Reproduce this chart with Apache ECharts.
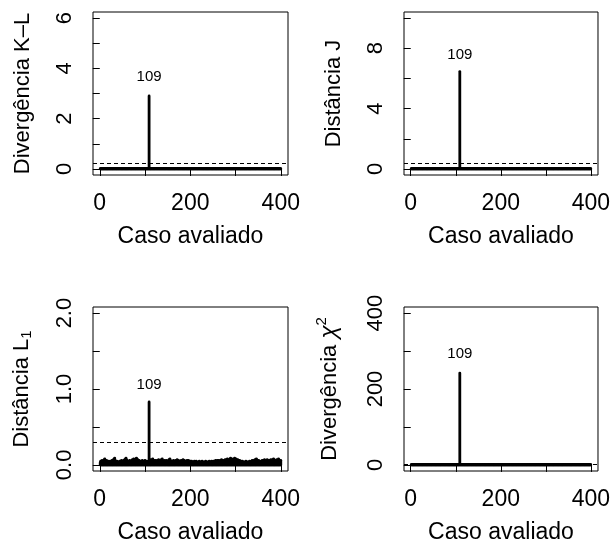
<!DOCTYPE html>
<html><head><meta charset="utf-8">
<script src="https://cdn.jsdelivr.net/npm/echarts@6/dist/echarts.min.js"></script>
<style>html,body{margin:0;padding:0;background:#fff}#c{width:613px;height:548px}</style>
</head><body><div id="c"></div><script>
// ---------- DATA ----------
const nCases = 400;
const casos = Array.from({length: nCases}, (_, i) => i + 1); // case index 1..400
const xTicks = [0, 100, 200, 300, 400];
const xTickLabels = [0, 200, 400];

// Divergência K-L
const klValues = [
0.01,0.01,0.01,0.01,0.01,0.01,0.01,0.01,0.01,0.01,0.01,0.01,0.01,0.01,0.01,0.01,0.01,0.01,0.01,0.01,
0.01,0.01,0.01,0.01,0.01,0.01,0.01,0.01,0.01,0.01,0.01,0.01,0.01,0.01,0.01,0.01,0.01,0.01,0.01,0.01,
0.01,0.01,0.01,0.01,0.01,0.01,0.01,0.01,0.01,0.01,0.01,0.01,0.01,0.01,0.01,0.01,0.01,0.01,0.01,0.01,
0.01,0.01,0.01,0.01,0.01,0.01,0.01,0.01,0.01,0.01,0.01,0.01,0.01,0.01,0.01,0.01,0.01,0.01,0.01,0.01,
0.01,0.01,0.01,0.01,0.01,0.01,0.01,0.01,0.01,0.01,0.01,0.01,0.01,0.01,0.01,0.01,0.01,0.01,0.01,0.01,
0.01,0.01,0.01,0.01,0.01,0.01,0.01,0.01,2.9,0.01,0.01,0.01,0.01,0.01,0.01,0.01,0.01,0.01,0.01,0.01,
0.01,0.01,0.01,0.01,0.01,0.01,0.01,0.01,0.01,0.01,0.01,0.01,0.01,0.01,0.01,0.01,0.01,0.01,0.01,0.01,
0.01,0.01,0.01,0.01,0.01,0.01,0.01,0.01,0.01,0.01,0.01,0.01,0.01,0.01,0.01,0.01,0.01,0.01,0.01,0.01,
0.01,0.01,0.01,0.01,0.01,0.01,0.01,0.01,0.01,0.01,0.01,0.01,0.01,0.01,0.01,0.01,0.01,0.01,0.01,0.01,
0.01,0.01,0.01,0.01,0.01,0.01,0.01,0.01,0.01,0.01,0.01,0.01,0.01,0.01,0.01,0.01,0.01,0.01,0.01,0.01,
0.01,0.01,0.01,0.01,0.01,0.01,0.01,0.01,0.01,0.01,0.01,0.01,0.01,0.01,0.01,0.01,0.01,0.01,0.01,0.01,
0.01,0.01,0.01,0.01,0.01,0.01,0.01,0.01,0.01,0.01,0.01,0.01,0.01,0.01,0.01,0.01,0.01,0.01,0.01,0.01,
0.01,0.01,0.01,0.01,0.01,0.01,0.01,0.01,0.01,0.01,0.01,0.01,0.01,0.01,0.01,0.01,0.01,0.01,0.01,0.01,
0.01,0.01,0.01,0.01,0.01,0.01,0.01,0.01,0.01,0.01,0.01,0.01,0.01,0.01,0.01,0.01,0.01,0.01,0.01,0.01,
0.01,0.01,0.01,0.01,0.01,0.01,0.01,0.01,0.01,0.01,0.01,0.01,0.01,0.01,0.01,0.01,0.01,0.01,0.01,0.01,
0.01,0.01,0.01,0.01,0.01,0.01,0.01,0.01,0.01,0.01,0.01,0.01,0.01,0.01,0.01,0.01,0.01,0.01,0.01,0.01,
0.01,0.01,0.01,0.01,0.01,0.01,0.01,0.01,0.01,0.01,0.01,0.01,0.01,0.01,0.01,0.01,0.01,0.01,0.01,0.01,
0.01,0.01,0.01,0.01,0.01,0.01,0.01,0.01,0.01,0.01,0.01,0.01,0.01,0.01,0.01,0.01,0.01,0.01,0.01,0.01,
0.01,0.01,0.01,0.01,0.01,0.01,0.01,0.01,0.01,0.01,0.01,0.01,0.01,0.01,0.01,0.01,0.01,0.01,0.01,0.01,
0.01,0.01,0.01,0.01,0.01,0.01,0.01,0.01,0.01,0.01,0.01,0.01,0.01,0.01,0.01,0.01,0.01,0.01,0.01,0.01];
const klThreshold = 0.22;
const klTicks = [0, 1, 2, 3, 4, 5, 6];
const klTickLabels = [0, 2, 4, 6];
const klRange = [0, 6];
const klLabelY = 3.65;

// Distância J
const jValues = [
0.02,0.02,0.02,0.02,0.02,0.02,0.02,0.02,0.02,0.02,0.02,0.02,0.02,0.02,0.02,0.02,0.02,0.02,0.02,0.02,
0.02,0.02,0.02,0.02,0.02,0.02,0.02,0.02,0.02,0.02,0.02,0.02,0.02,0.02,0.02,0.02,0.02,0.02,0.02,0.02,
0.02,0.02,0.02,0.02,0.02,0.02,0.02,0.02,0.02,0.02,0.02,0.02,0.02,0.02,0.02,0.02,0.02,0.02,0.02,0.02,
0.02,0.02,0.02,0.02,0.02,0.02,0.02,0.02,0.02,0.02,0.02,0.02,0.02,0.02,0.02,0.02,0.02,0.02,0.02,0.02,
0.02,0.02,0.02,0.02,0.02,0.02,0.02,0.02,0.02,0.02,0.02,0.02,0.02,0.02,0.02,0.02,0.02,0.02,0.02,0.02,
0.02,0.02,0.02,0.02,0.02,0.02,0.02,0.02,6.45,0.02,0.02,0.02,0.02,0.02,0.02,0.02,0.02,0.02,0.02,0.02,
0.02,0.02,0.02,0.02,0.02,0.02,0.02,0.02,0.02,0.02,0.02,0.02,0.02,0.02,0.02,0.02,0.02,0.02,0.02,0.02,
0.02,0.02,0.02,0.02,0.02,0.02,0.02,0.02,0.02,0.02,0.02,0.02,0.02,0.02,0.02,0.02,0.02,0.02,0.02,0.02,
0.02,0.02,0.02,0.02,0.02,0.02,0.02,0.02,0.02,0.02,0.02,0.02,0.02,0.02,0.02,0.02,0.02,0.02,0.02,0.02,
0.02,0.02,0.02,0.02,0.02,0.02,0.02,0.02,0.02,0.02,0.02,0.02,0.02,0.02,0.02,0.02,0.02,0.02,0.02,0.02,
0.02,0.02,0.02,0.02,0.02,0.02,0.02,0.02,0.02,0.02,0.02,0.02,0.02,0.02,0.02,0.02,0.02,0.02,0.02,0.02,
0.02,0.02,0.02,0.02,0.02,0.02,0.02,0.02,0.02,0.02,0.02,0.02,0.02,0.02,0.02,0.02,0.02,0.02,0.02,0.02,
0.02,0.02,0.02,0.02,0.02,0.02,0.02,0.02,0.02,0.02,0.02,0.02,0.02,0.02,0.02,0.02,0.02,0.02,0.02,0.02,
0.02,0.02,0.02,0.02,0.02,0.02,0.02,0.02,0.02,0.02,0.02,0.02,0.02,0.02,0.02,0.02,0.02,0.02,0.02,0.02,
0.02,0.02,0.02,0.02,0.02,0.02,0.02,0.02,0.02,0.02,0.02,0.02,0.02,0.02,0.02,0.02,0.02,0.02,0.02,0.02,
0.02,0.02,0.02,0.02,0.02,0.02,0.02,0.02,0.02,0.02,0.02,0.02,0.02,0.02,0.02,0.02,0.02,0.02,0.02,0.02,
0.02,0.02,0.02,0.02,0.02,0.02,0.02,0.02,0.02,0.02,0.02,0.02,0.02,0.02,0.02,0.02,0.02,0.02,0.02,0.02,
0.02,0.02,0.02,0.02,0.02,0.02,0.02,0.02,0.02,0.02,0.02,0.02,0.02,0.02,0.02,0.02,0.02,0.02,0.02,0.02,
0.02,0.02,0.02,0.02,0.02,0.02,0.02,0.02,0.02,0.02,0.02,0.02,0.02,0.02,0.02,0.02,0.02,0.02,0.02,0.02,
0.02,0.02,0.02,0.02,0.02,0.02,0.02,0.02,0.02,0.02,0.02,0.02,0.02,0.02,0.02,0.02,0.02,0.02,0.02,0.02];
const jThreshold = 0.4;
const jTicks = [0, 2, 4, 6, 8, 10];
const jTickLabels = [0, 4, 8];
const jRange = [0, 10];
const jLabelY = 7.55;

// Distância L1
const l1Values = [
0.03,0.05,0.02,0.04,0.06,0.03,0.02,0.05,0.04,0.07,0.08,0.05,0.03,0.04,0.06,0.05,0.02,0.03,0.04,0.05,
0.03,0.04,0.02,0.05,0.03,0.04,0.06,0.05,0.04,0.07,0.06,0.08,0.09,0.06,0.05,0.04,0.03,0.05,0.04,0.03,
0.02,0.04,0.03,0.05,0.04,0.03,0.05,0.06,0.04,0.03,0.05,0.04,0.06,0.05,0.07,0.06,0.08,0.09,0.07,0.06,
0.05,0.04,0.03,0.05,0.04,0.06,0.05,0.04,0.03,0.05,0.06,0.07,0.05,0.06,0.08,0.07,0.06,0.05,0.07,0.08,
0.09,0.08,0.06,0.07,0.05,0.04,0.06,0.05,0.03,0.04,0.05,0.03,0.04,0.06,0.05,0.04,0.03,0.05,0.04,0.06,
0.05,0.03,0.04,0.05,0.04,0.03,0.04,0.05,0.83,0.06,0.05,0.07,0.04,0.06,0.05,0.07,0.08,0.06,0.05,0.04,
0.06,0.05,0.04,0.06,0.03,0.05,0.04,0.06,0.05,0.07,0.04,0.06,0.05,0.04,0.06,0.07,0.05,0.08,0.06,0.04,
0.05,0.04,0.06,0.03,0.05,0.04,0.06,0.05,0.04,0.03,0.05,0.06,0.07,0.05,0.08,0.06,0.04,0.05,0.03,0.04,
0.05,0.04,0.06,0.05,0.03,0.04,0.05,0.06,0.04,0.05,0.07,0.05,0.04,0.06,0.05,0.04,0.03,0.05,0.04,0.06,
0.05,0.04,0.06,0.07,0.05,0.04,0.06,0.05,0.04,0.03,0.05,0.04,0.06,0.05,0.04,0.06,0.05,0.04,0.03,0.05,
0.04,0.03,0.05,0.04,0.03,0.02,0.04,0.03,0.05,0.04,0.03,0.04,0.05,0.03,0.04,0.02,0.03,0.04,0.03,0.05,
0.04,0.03,0.02,0.04,0.03,0.05,0.04,0.03,0.04,0.02,0.03,0.04,0.03,0.05,0.04,0.03,0.02,0.04,0.03,0.04,
0.03,0.05,0.04,0.03,0.04,0.03,0.05,0.04,0.03,0.04,0.05,0.04,0.03,0.05,0.04,0.06,0.05,0.04,0.05,0.06,
0.05,0.04,0.06,0.05,0.04,0.05,0.06,0.05,0.07,0.06,0.05,0.06,0.04,0.05,0.06,0.05,0.07,0.06,0.05,0.07,
0.06,0.08,0.07,0.06,0.05,0.07,0.06,0.08,0.09,0.07,0.06,0.08,0.07,0.06,0.05,0.07,0.08,0.09,0.07,0.06,
0.08,0.07,0.06,0.05,0.07,0.06,0.05,0.04,0.06,0.05,0.04,0.05,0.04,0.03,0.05,0.04,0.03,0.04,0.03,0.02,
0.04,0.03,0.05,0.04,0.03,0.04,0.02,0.03,0.04,0.03,0.05,0.04,0.03,0.04,0.05,0.04,0.06,0.05,0.04,0.05,
0.06,0.05,0.07,0.06,0.05,0.08,0.07,0.06,0.05,0.04,0.06,0.05,0.04,0.05,0.03,0.04,0.05,0.04,0.06,0.05,
0.04,0.06,0.05,0.07,0.06,0.05,0.04,0.06,0.05,0.07,0.06,0.05,0.04,0.06,0.05,0.04,0.06,0.07,0.05,0.06,
0.05,0.07,0.06,0.08,0.07,0.06,0.05,0.04,0.06,0.05,0.07,0.06,0.05,0.06,0.08,0.07,0.06,0.05,0.04,0.06];
const l1Threshold = 0.30;
const l1Ticks = [0, 0.5, 1, 1.5, 2];
const l1TickLabels = [0, 1, 2];
const l1Range = [0, 2];
const l1LabelY = 1.06;

// Divergência chi^2
const chiValues = [
0.5,0.5,0.5,0.5,0.5,0.5,0.5,0.5,0.5,0.5,0.5,0.5,0.5,0.5,0.5,0.5,0.5,0.5,0.5,0.5,
0.5,0.5,0.5,0.5,0.5,0.5,0.5,0.5,0.5,0.5,0.5,0.5,0.5,0.5,0.5,0.5,0.5,0.5,0.5,0.5,
0.5,0.5,0.5,0.5,0.5,0.5,0.5,0.5,0.5,0.5,0.5,0.5,0.5,0.5,0.5,0.5,0.5,0.5,0.5,0.5,
0.5,0.5,0.5,0.5,0.5,0.5,0.5,0.5,0.5,0.5,0.5,0.5,0.5,0.5,0.5,0.5,0.5,0.5,0.5,0.5,
0.5,0.5,0.5,0.5,0.5,0.5,0.5,0.5,0.5,0.5,0.5,0.5,0.5,0.5,0.5,0.5,0.5,0.5,0.5,0.5,
0.5,0.5,0.5,0.5,0.5,0.5,0.5,0.5,242,0.5,0.5,0.5,0.5,0.5,0.5,0.5,0.5,0.5,0.5,0.5,
0.5,0.5,0.5,0.5,0.5,0.5,0.5,0.5,0.5,0.5,0.5,0.5,0.5,0.5,0.5,0.5,0.5,0.5,0.5,0.5,
0.5,0.5,0.5,0.5,0.5,0.5,0.5,0.5,0.5,0.5,0.5,0.5,0.5,0.5,0.5,0.5,0.5,0.5,0.5,0.5,
0.5,0.5,0.5,0.5,0.5,0.5,0.5,0.5,0.5,0.5,0.5,0.5,0.5,0.5,0.5,0.5,0.5,0.5,0.5,0.5,
0.5,0.5,0.5,0.5,0.5,0.5,0.5,0.5,0.5,0.5,0.5,0.5,0.5,0.5,0.5,0.5,0.5,0.5,0.5,0.5,
0.5,0.5,0.5,0.5,0.5,0.5,0.5,0.5,0.5,0.5,0.5,0.5,0.5,0.5,0.5,0.5,0.5,0.5,0.5,0.5,
0.5,0.5,0.5,0.5,0.5,0.5,0.5,0.5,0.5,0.5,0.5,0.5,0.5,0.5,0.5,0.5,0.5,0.5,0.5,0.5,
0.5,0.5,0.5,0.5,0.5,0.5,0.5,0.5,0.5,0.5,0.5,0.5,0.5,0.5,0.5,0.5,0.5,0.5,0.5,0.5,
0.5,0.5,0.5,0.5,0.5,0.5,0.5,0.5,0.5,0.5,0.5,0.5,0.5,0.5,0.5,0.5,0.5,0.5,0.5,0.5,
0.5,0.5,0.5,0.5,0.5,0.5,0.5,0.5,0.5,0.5,0.5,0.5,0.5,0.5,0.5,0.5,0.5,0.5,0.5,0.5,
0.5,0.5,0.5,0.5,0.5,0.5,0.5,0.5,0.5,0.5,0.5,0.5,0.5,0.5,0.5,0.5,0.5,0.5,0.5,0.5,
0.5,0.5,0.5,0.5,0.5,0.5,0.5,0.5,0.5,0.5,0.5,0.5,0.5,0.5,0.5,0.5,0.5,0.5,0.5,0.5,
0.5,0.5,0.5,0.5,0.5,0.5,0.5,0.5,0.5,0.5,0.5,0.5,0.5,0.5,0.5,0.5,0.5,0.5,0.5,0.5,
0.5,0.5,0.5,0.5,0.5,0.5,0.5,0.5,0.5,0.5,0.5,0.5,0.5,0.5,0.5,0.5,0.5,0.5,0.5,0.5,
0.5,0.5,0.5,0.5,0.5,0.5,0.5,0.5,0.5,0.5,0.5,0.5,0.5,0.5,0.5,0.5,0.5,0.5,0.5,0.5];
const chiThreshold = 1;
const chiTicks = [0, 100, 200, 300, 400];
const chiTickLabels = [0, 200, 400];
const chiRange = [0, 400];
const chiLabelY = 293;

const highlightCase = 109;
const highlightText = '109';
const xTitle = 'Caso avaliado';

// ---------- LAYOUT / STYLE ----------
const FONT = '"Liberation Sans", Arial, Helvetica, sans-serif';
const panels = [
  {vals: klValues, thr: klThreshold, ticks: klTicks, labels: klTickLabels, range: klRange, labY: klLabelY, dec: 0,
   name: 'Divergência K–L', rich: null, box: {left: 93, top: 12, width: 195, height: 163}},
  {vals: jValues, thr: jThreshold, ticks: jTicks, labels: jTickLabels, range: jRange, labY: jLabelY, dec: 0,
   name: 'Distância J', rich: null, box: {left: 404, top: 12, width: 195, height: 163}},
  {vals: l1Values, thr: l1Threshold, ticks: l1Ticks, labels: l1TickLabels, range: l1Range, labY: l1LabelY, dec: 1,
   name: '{n|Distância L}{sub|1}', rich: true, box: {left: 93, top: 307, width: 195, height: 164}},
  {vals: chiValues, thr: chiThreshold, ticks: chiTicks, labels: chiTickLabels, range: chiRange, labY: chiLabelY, dec: 0,
   name: '{n|Divergência }{chi|χ}{sup|2}', rich: true, box: {left: 404, top: 307, width: 195, height: 164}}
];

const xExt = 0.04 * (nCases - 1);
const grids = [], xAxes = [], yAxes = [], series = [];
panels.forEach((p, i) => {
  grids.push(Object.assign({show: true, borderColor: '#000', borderWidth: 1, backgroundColor: 'transparent', containLabel: false}, p.box));
  xAxes.push({
    type: 'value', gridIndex: i, min: 1 - xExt, max: nCases + xExt,
    axisLine: {show: false},
    axisTick: {show: true, length: 7, inside: false, customValues: xTicks, lineStyle: {color: '#000', width: 1}},
    axisLabel: {show: true, customValues: xTickLabels, margin: 17, fontSize: 23, color: '#000', fontFamily: FONT},
    splitLine: {show: false},
    name: xTitle, nameLocation: 'middle', nameGap: 50,
    nameTextStyle: {fontSize: 23, color: '#000', fontFamily: FONT}
  });
  const yExt = 0.04 * (p.range[1] - p.range[0]);
  const nameStyle = {fontSize: 22, color: '#000', fontFamily: FONT};
  if (p.rich) {
    nameStyle.rich = {
      n: {fontSize: 22, color: '#000', fontFamily: FONT},
      chi: {fontSize: 24, color: '#000', fontFamily: FONT, fontStyle: 'italic'},
      sup: {fontSize: 15, color: '#000', fontFamily: FONT, padding: [0, 0, 16, 0]},
      sub: {fontSize: 15, color: '#000', fontFamily: FONT, padding: [10, 0, 0, 0]}
    };
  }
  yAxes.push({
    type: 'value', gridIndex: i, min: p.range[0] - yExt, max: p.range[1] + yExt,
    axisLine: {show: false},
    axisTick: {show: true, length: 7, inside: false, customValues: p.ticks, lineStyle: {color: '#000', width: 1}},
    axisLabel: {show: true, customValues: p.labels, rotate: 90, margin: 17, fontSize: 22, color: '#000', fontFamily: FONT,
      formatter: v => Number(v).toFixed(p.dec)},
    splitLine: {show: false},
    name: p.name, nameLocation: 'middle', nameGap: 59,
    nameTextStyle: nameStyle
  });
  const data = casos.map((c, k) => [c, p.vals[k]]);
  series.push({
    type: 'custom', xAxisIndex: i, yAxisIndex: i, data: data, clip: false, silent: true,
    renderItem: (params, api) => {
      const a = api.coord([api.value(0), 0]);
      const b = api.coord([api.value(0), api.value(1)]);
      return {type: 'line', shape: {x1: a[0], y1: a[1], x2: b[0], y2: b[1]},
        style: {stroke: '#000', lineWidth: 2.8, lineCap: 'round'}};
    }
  });
  series.push({
    type: 'line', xAxisIndex: i, yAxisIndex: i, data: [], silent: true, symbol: 'none',
    markLine: {silent: true, symbol: 'none', label: {show: false},
      lineStyle: {color: '#000', width: 1, type: [4, 3]},
      data: [{yAxis: p.thr}]}
  });
  series.push({
    type: 'custom', xAxisIndex: i, yAxisIndex: i, data: [[highlightCase, p.labY]], silent: true, clip: false,
    renderItem: (params, api) => {
      const c = api.coord([api.value(0), api.value(1)]);
      return {type: 'text', x: c[0], y: c[1],
        style: {text: highlightText, fill: '#000', fontSize: 15, fontFamily: FONT, align: 'center', verticalAlign: 'middle'}};
    }
  });
});

const chart = echarts.init(document.getElementById('c'), null, {renderer: 'canvas'});
chart.setOption({animation: false, backgroundColor: '#fff', grid: grids, xAxis: xAxes, yAxis: yAxes, series: series});
</script></body></html>
